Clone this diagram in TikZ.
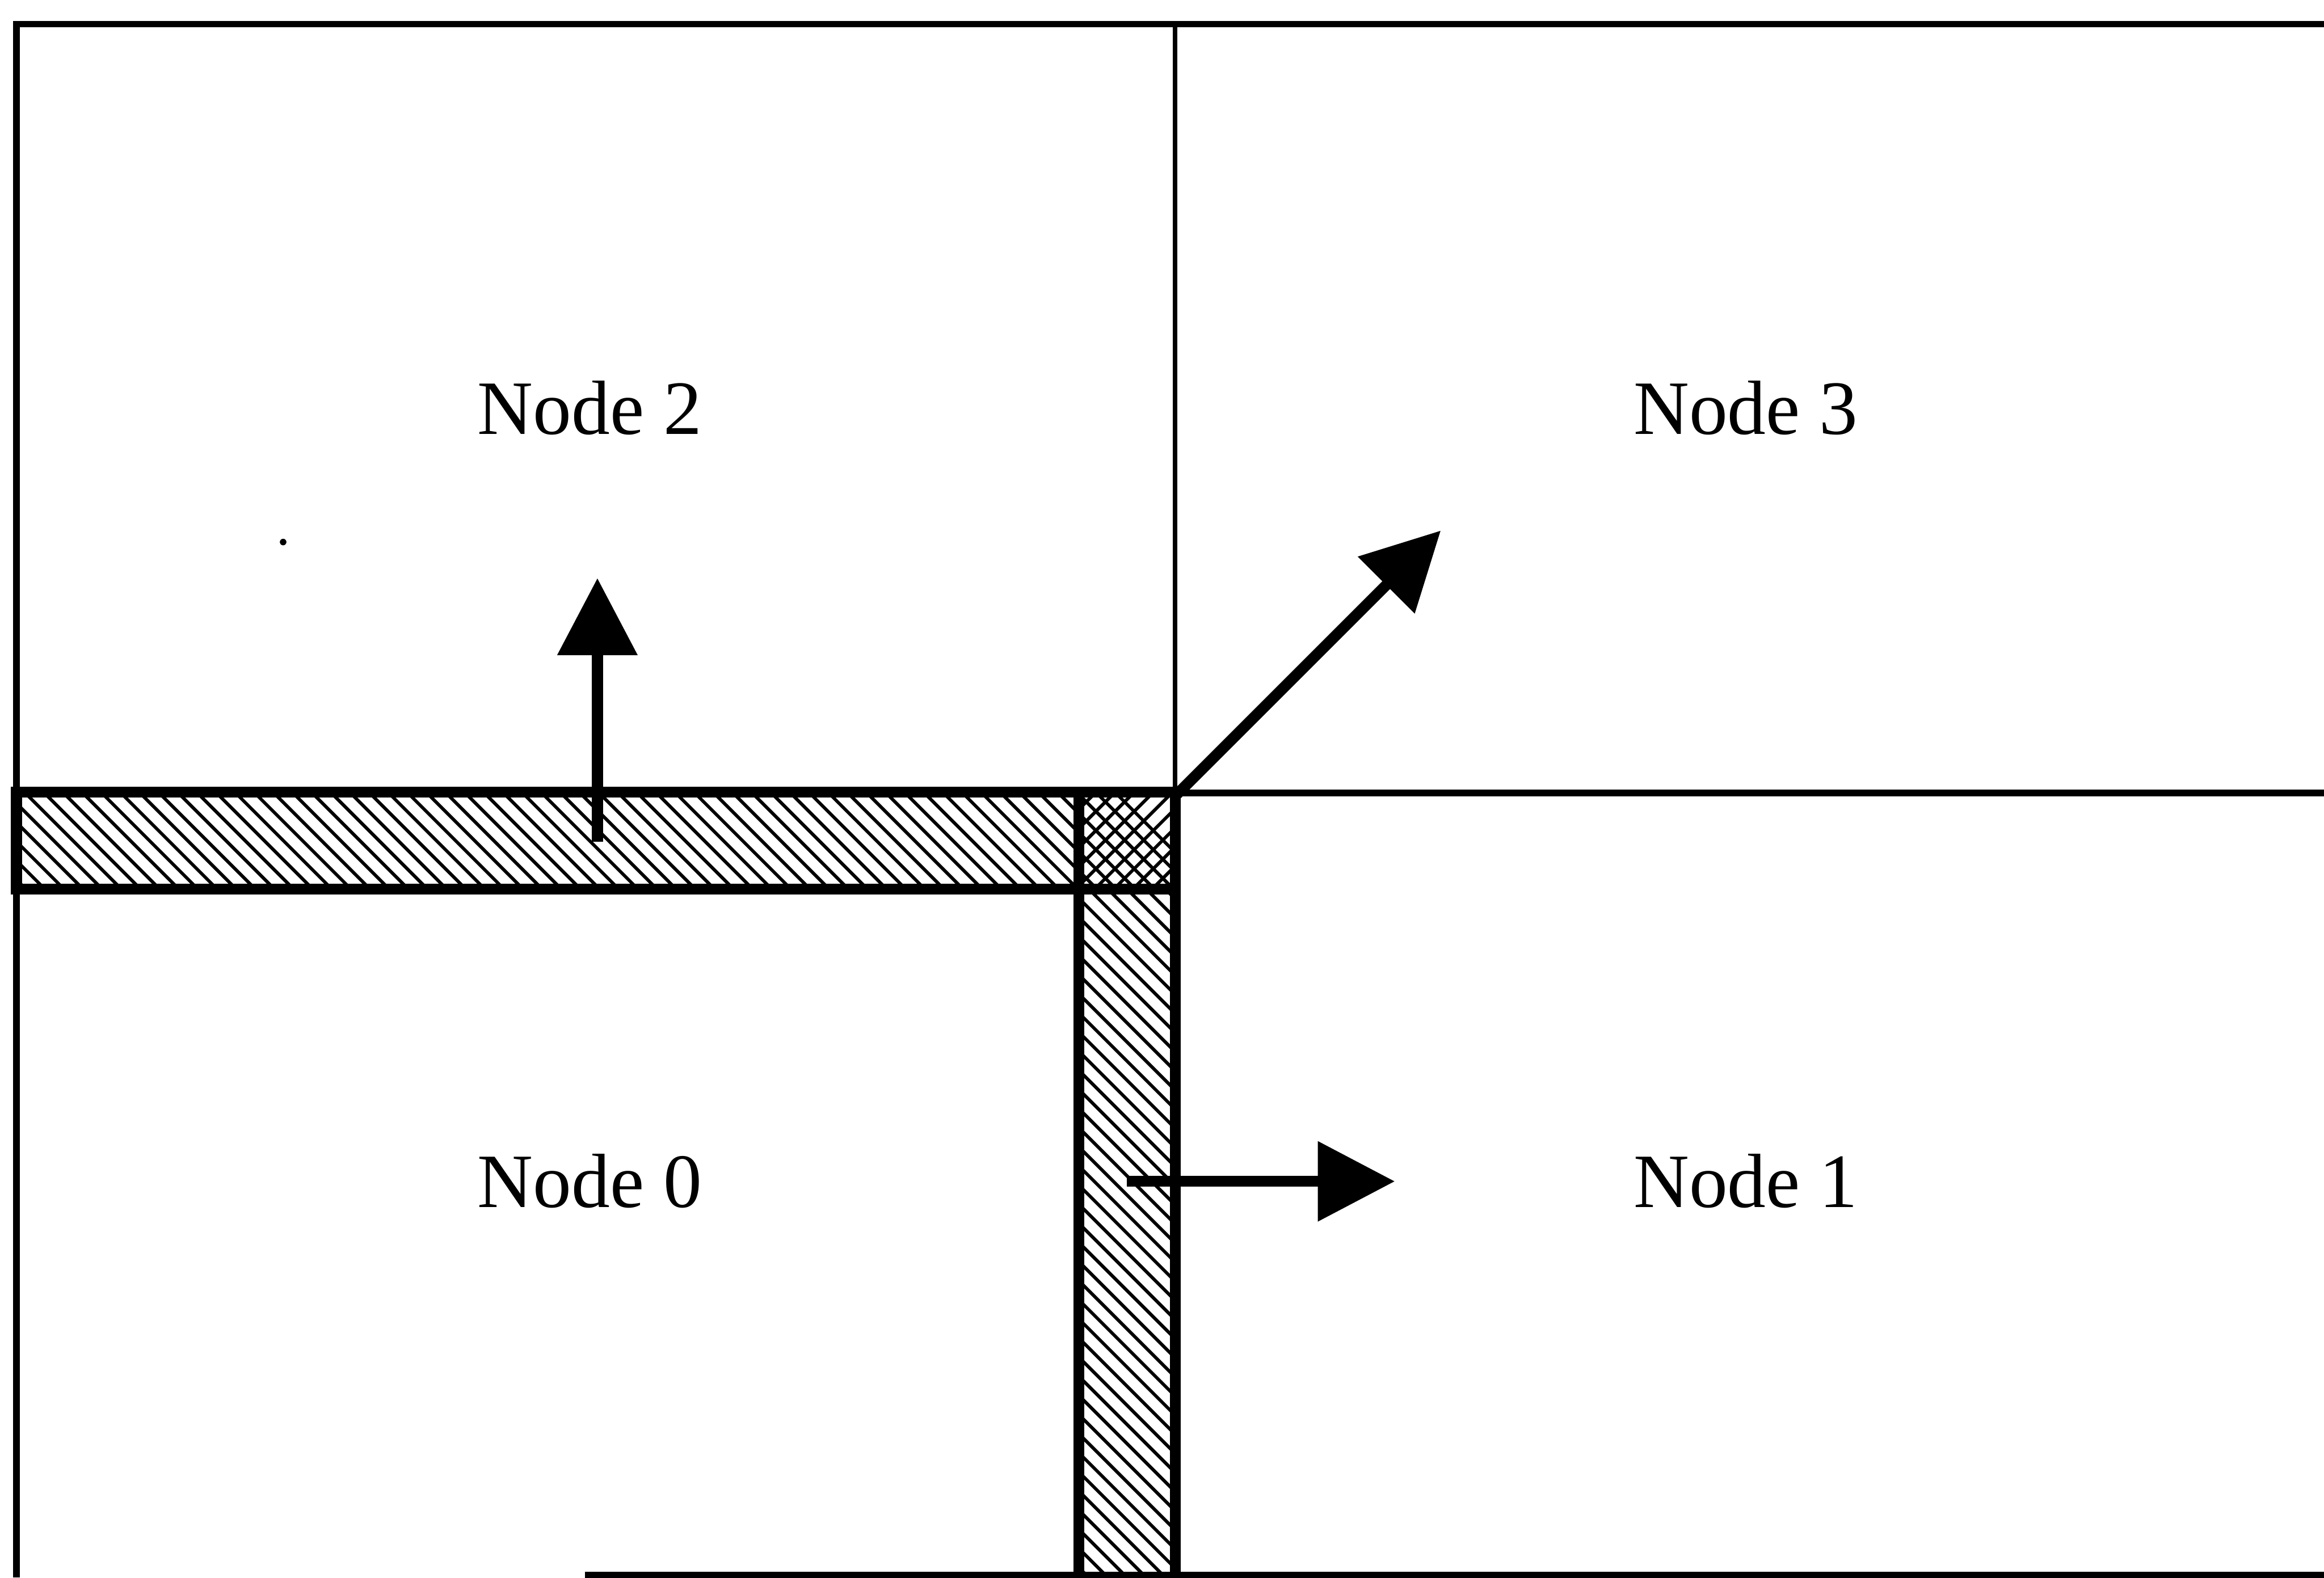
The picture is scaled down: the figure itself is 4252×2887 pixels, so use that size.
\documentclass[tikz,border=0pt]{standalone}
\usepackage{fontspec}
\setmainfont{Liberation Serif}
\usetikzlibrary{arrows.meta}
\begin{document}
\begin{tikzpicture}[x=0.01cm,y=-0.01cm,
  frameline/.style={line width=0.12cm},
  divline/.style={line width=0.09cm},
  stripline/.style={line width=0.2cm},
  hatchline/.style={line width=0.06cm},
  flow/.style={line width=0.2cm,-{Triangle[length=1.41cm,width=1.42cm]}},
  nodetext/.style={font=\fontsize{40}{48}\selectfont, anchor=base, inner sep=0pt}]
\useasboundingbox (0,0) rectangle (4252,2887);
% outer frame (cropped at right and bottom)
\draw[frameline] (30,2887) -- (30,44) -- (4252,44);
\draw[frameline] (1070,2882) -- (4252,2882);
% dividers
\draw[divline] (2150,44) -- (2150,1450);
\draw[frameline] (2150,1451) -- (4252,1451);
% hatching of horizontal strip
\begin{scope}
  \clip (30,1450) rectangle (1974,1627);
  \foreach \c in {-1650,-1615,...,600} \draw[hatchline] (\c,0) -- ++(3000,3000);
\end{scope}
% hatching of vertical strip
\begin{scope}
  \clip (1974,1627) rectangle (2150,2887);
  \foreach \c in {-1000,-965,...,600} \draw[hatchline] (\c,0) -- ++(3000,3000);
\end{scope}
% cross hatching of corner cell
\begin{scope}
  \clip (1974,1450) rectangle (2150,1627);
  \foreach \c in {-1650,-1615,...,600} \draw[hatchline] (\c,0) -- ++(3000,3000);
  \foreach \c in {3350,3385,...,3850} \draw[hatchline] (\c,0) -- ++(-3000,3000);
\end{scope}
% strip borders
\draw[stripline] (30,1450) rectangle (2150,1627);
\draw[stripline] (1974,1450) -- (1974,2887);
\draw[stripline] (2150,1450) -- (2150,2887);
% labels
\node[nodetext] (n2) at (1079,795) {Node 2};
\node[nodetext] (n3) at (3194,795) {Node 3};
\node[nodetext] (n0) at (1079,2210) {Node 0};
\node[nodetext] (n1) at (3194,2210) {Node 1};
% arrows
\coordinate (upS) at (1093,1540);
\coordinate (upE) at (1093,1058);
\coordinate (rtS) at (2062,2162);
\coordinate (rtE) at (2552,2162);
\coordinate (dgS) at (2152,1455);
\coordinate (dgE) at (2636,971);
\draw[flow] (upS) -- (upE);
\draw[flow] (rtS) -- (rtE);
\draw[flow] (dgS) -- (dgE);
% small speck
\fill (518,992) circle (6);
\end{tikzpicture}
\end{document}
